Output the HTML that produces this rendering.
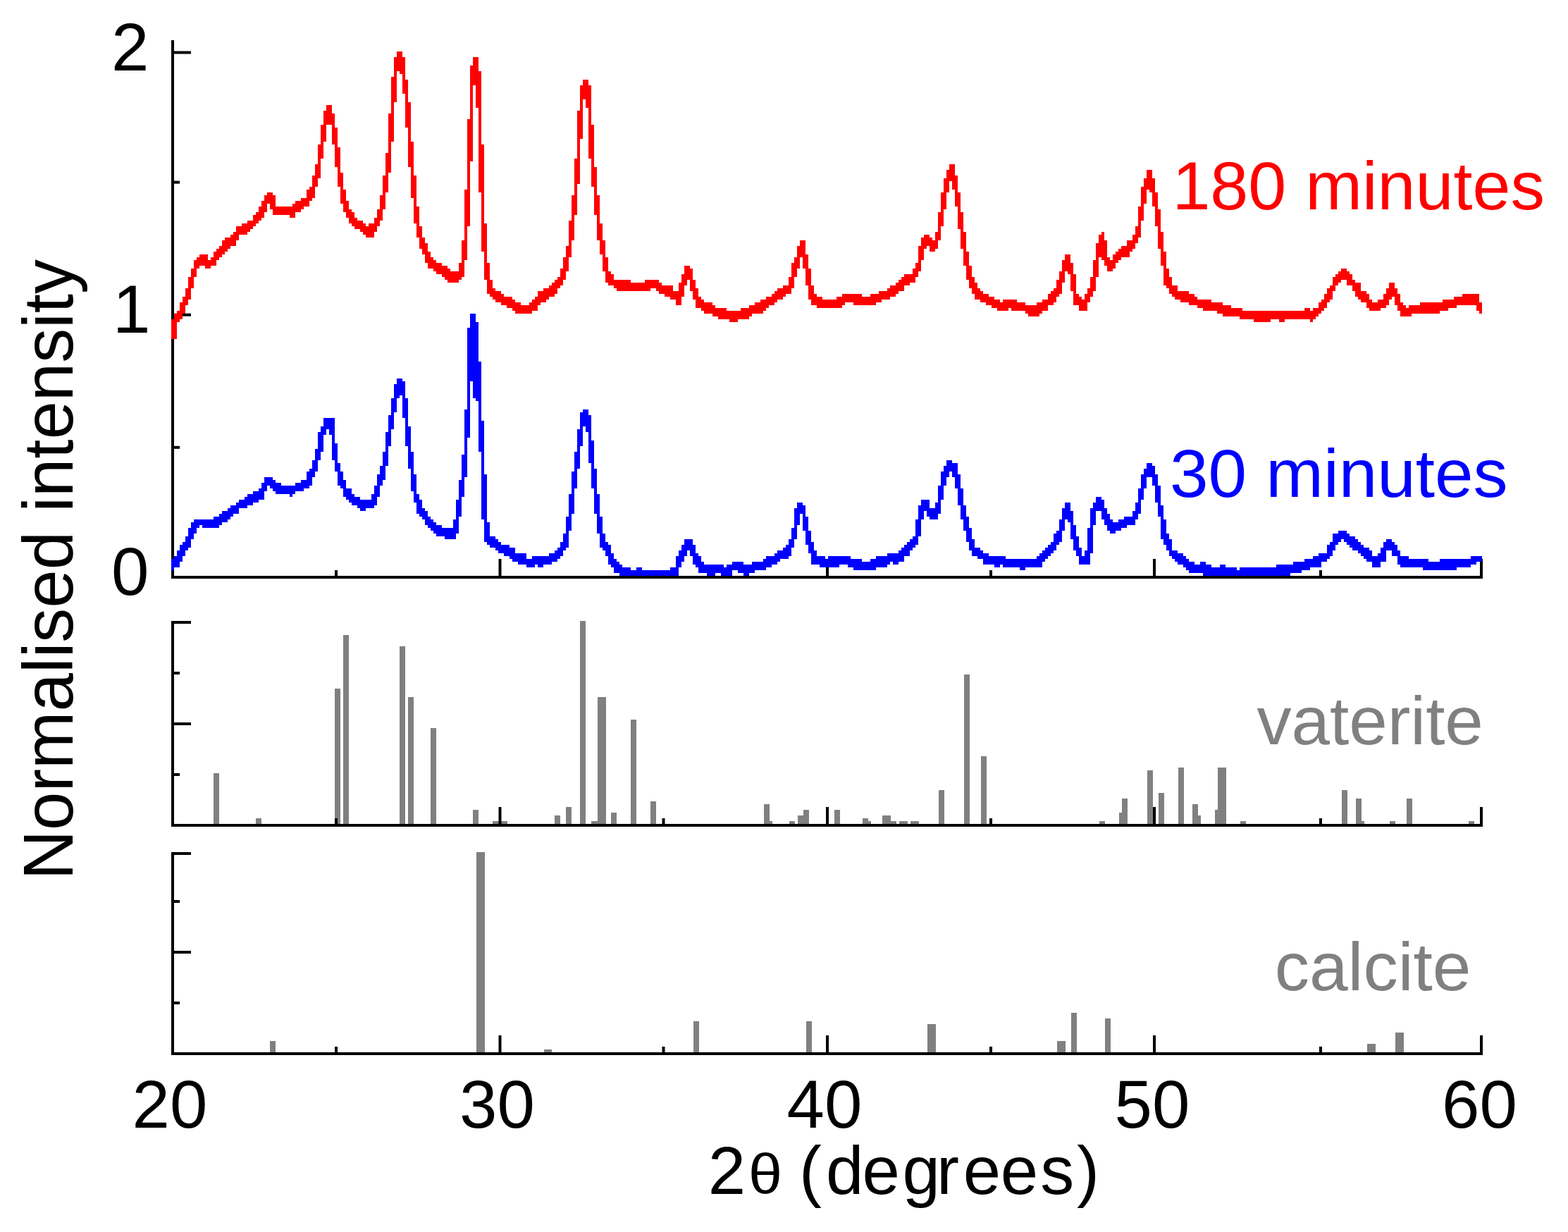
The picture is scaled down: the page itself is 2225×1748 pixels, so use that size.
<!DOCTYPE html>
<html><head><meta charset="utf-8"><title>XRD patterns</title>
<style>html,body{margin:0;padding:0;background:#fff;overflow:hidden}svg{display:block}</style>
</head><body>
<svg width="2225" height="1748" viewBox="0 0 2225 1748" font-family="'Liberation Sans', Arial, sans-serif">
<rect x="303" y="1097" width="8" height="72" fill="#808080"/>
<rect x="363" y="1161" width="8" height="8" fill="#808080"/>
<rect x="475" y="977" width="8" height="192" fill="#808080"/>
<rect x="487" y="901" width="8" height="268" fill="#808080"/>
<rect x="567" y="917" width="8" height="252" fill="#808080"/>
<rect x="579" y="989" width="8" height="180" fill="#808080"/>
<rect x="611" y="1033" width="8" height="136" fill="#808080"/>
<rect x="671" y="1149" width="8" height="20" fill="#808080"/>
<rect x="699" y="1165" width="21" height="4" fill="#808080"/>
<rect x="787" y="1157" width="8" height="12" fill="#808080"/>
<rect x="803" y="1145" width="8" height="24" fill="#808080"/>
<rect x="823" y="881" width="8" height="288" fill="#808080"/>
<rect x="839" y="1165" width="9" height="4" fill="#808080"/>
<rect x="848" y="989" width="12" height="180" fill="#808080"/>
<rect x="867" y="1153" width="8" height="16" fill="#808080"/>
<rect x="895" y="1021" width="8" height="148" fill="#808080"/>
<rect x="923" y="1137" width="8" height="32" fill="#808080"/>
<rect x="1084" y="1141" width="8" height="28" fill="#808080"/>
<rect x="1092" y="1165" width="4" height="4" fill="#808080"/>
<rect x="1120" y="1165" width="8" height="4" fill="#808080"/>
<rect x="1132" y="1157" width="8" height="12" fill="#808080"/>
<rect x="1140" y="1149" width="8" height="20" fill="#808080"/>
<rect x="1184" y="1149" width="8" height="20" fill="#808080"/>
<rect x="1224" y="1161" width="8" height="8" fill="#808080"/>
<rect x="1232" y="1165" width="4" height="4" fill="#808080"/>
<rect x="1252" y="1157" width="12" height="12" fill="#808080"/>
<rect x="1264" y="1165" width="8" height="4" fill="#808080"/>
<rect x="1276" y="1165" width="12" height="4" fill="#808080"/>
<rect x="1292" y="1165" width="12" height="4" fill="#808080"/>
<rect x="1332" y="1121" width="8" height="48" fill="#808080"/>
<rect x="1368" y="957" width="8" height="212" fill="#808080"/>
<rect x="1392" y="1073" width="8" height="96" fill="#808080"/>
<rect x="1560" y="1165" width="8" height="4" fill="#808080"/>
<rect x="1588" y="1153" width="4" height="16" fill="#808080"/>
<rect x="1592" y="1133" width="8" height="36" fill="#808080"/>
<rect x="1628" y="1093" width="8" height="76" fill="#808080"/>
<rect x="1644" y="1125" width="8" height="44" fill="#808080"/>
<rect x="1672" y="1089" width="8" height="80" fill="#808080"/>
<rect x="1692" y="1141" width="8" height="28" fill="#808080"/>
<rect x="1700" y="1157" width="4" height="12" fill="#808080"/>
<rect x="1724" y="1149" width="4" height="20" fill="#808080"/>
<rect x="1728" y="1089" width="12" height="80" fill="#808080"/>
<rect x="1760" y="1165" width="8" height="4" fill="#808080"/>
<rect x="1904" y="1121" width="8" height="48" fill="#808080"/>
<rect x="1924" y="1133" width="8" height="36" fill="#808080"/>
<rect x="1932" y="1165" width="4" height="4" fill="#808080"/>
<rect x="1972" y="1165" width="8" height="4" fill="#808080"/>
<rect x="1996" y="1133" width="8" height="36" fill="#808080"/>
<rect x="2084" y="1165" width="8" height="4" fill="#808080"/>
<rect x="383" y="1477" width="8" height="16" fill="#808080"/>
<rect x="676" y="1209" width="12" height="284" fill="#808080"/>
<rect x="772" y="1489" width="11" height="4" fill="#808080"/>
<rect x="984" y="1449" width="8" height="44" fill="#808080"/>
<rect x="1144" y="1449" width="8" height="44" fill="#808080"/>
<rect x="1316" y="1453" width="12" height="40" fill="#808080"/>
<rect x="1500" y="1477" width="12" height="16" fill="#808080"/>
<rect x="1520" y="1437" width="8" height="56" fill="#808080"/>
<rect x="1568" y="1445" width="8" height="48" fill="#808080"/>
<rect x="1940" y="1481" width="12" height="12" fill="#808080"/>
<rect x="1980" y="1465" width="12" height="28" fill="#808080"/>
<rect x="243" y="57" width="4" height="764" fill="#000"/>
<rect x="243" y="817" width="1861" height="4" fill="#000"/>
<rect x="247" y="72.5" width="24" height="4" fill="#000"/>
<rect x="247" y="444.7" width="24" height="4" fill="#000"/>
<rect x="247" y="256.6" width="8" height="4" fill="#000"/>
<rect x="247" y="632.8" width="8" height="4" fill="#000"/>
<rect x="707.5" y="793" width="4" height="24" fill="#000"/>
<rect x="1172" y="793" width="4" height="24" fill="#000"/>
<rect x="1636" y="793" width="4" height="24" fill="#000"/>
<rect x="2100" y="793" width="4" height="24" fill="#000"/>
<rect x="475" y="809" width="4" height="8" fill="#000"/>
<rect x="939.5" y="809" width="4" height="8" fill="#000"/>
<rect x="1404" y="809" width="4" height="8" fill="#000"/>
<rect x="1872" y="809" width="4" height="8" fill="#000"/>
<rect x="243" y="881" width="4" height="292" fill="#000"/>
<rect x="243" y="1169" width="1861" height="4" fill="#000"/>
<rect x="247" y="881" width="24" height="4" fill="#000"/>
<rect x="247" y="1025" width="24" height="4" fill="#000"/>
<rect x="247" y="953" width="8" height="4" fill="#000"/>
<rect x="247" y="1097" width="8" height="4" fill="#000"/>
<rect x="707.5" y="1145" width="4" height="24" fill="#000"/>
<rect x="1172" y="1145" width="4" height="24" fill="#000"/>
<rect x="1636" y="1145" width="4" height="24" fill="#000"/>
<rect x="2100" y="1145" width="4" height="24" fill="#000"/>
<rect x="475" y="1161" width="4" height="8" fill="#000"/>
<rect x="939.5" y="1161" width="4" height="8" fill="#000"/>
<rect x="1404" y="1161" width="4" height="8" fill="#000"/>
<rect x="1872" y="1161" width="4" height="8" fill="#000"/>
<rect x="243" y="1209" width="4" height="288" fill="#000"/>
<rect x="243" y="1493" width="1861" height="4" fill="#000"/>
<rect x="247" y="1209" width="24" height="4" fill="#000"/>
<rect x="247" y="1349" width="24" height="4" fill="#000"/>
<rect x="247" y="1277" width="8" height="4" fill="#000"/>
<rect x="247" y="1421" width="8" height="4" fill="#000"/>
<rect x="707.5" y="1469" width="4" height="24" fill="#000"/>
<rect x="1172" y="1469" width="4" height="24" fill="#000"/>
<rect x="1636" y="1469" width="4" height="24" fill="#000"/>
<rect x="2100" y="1469" width="4" height="24" fill="#000"/>
<rect x="475" y="1485" width="4" height="8" fill="#000"/>
<rect x="939.5" y="1485" width="4" height="8" fill="#000"/>
<rect x="1404" y="1485" width="4" height="8" fill="#000"/>
<rect x="1872" y="1485" width="4" height="8" fill="#000"/>
<g fill="#0000ff"><rect x="243" y="793" width="4" height="16"/><rect x="247" y="789" width="4" height="16"/><rect x="251" y="781" width="4" height="24"/><rect x="255" y="773" width="4" height="24"/><rect x="259" y="769" width="4" height="20"/><rect x="263" y="761" width="4" height="20"/><rect x="267" y="749" width="4" height="28"/><rect x="271" y="741" width="4" height="24"/><rect x="275" y="737" width="4" height="20"/><rect x="279" y="737" width="4" height="12"/><rect x="283" y="737" width="4" height="8"/><rect x="287" y="737" width="4" height="12"/><rect x="291" y="737" width="4" height="12"/><rect x="295" y="737" width="4" height="12"/><rect x="299" y="737" width="4" height="12"/><rect x="303" y="733" width="4" height="16"/><rect x="307" y="733" width="4" height="16"/><rect x="311" y="729" width="4" height="16"/><rect x="315" y="725" width="4" height="16"/><rect x="319" y="725" width="4" height="16"/><rect x="323" y="721" width="4" height="16"/><rect x="327" y="717" width="4" height="16"/><rect x="331" y="717" width="4" height="12"/><rect x="335" y="713" width="4" height="16"/><rect x="339" y="709" width="4" height="12"/><rect x="343" y="709" width="4" height="12"/><rect x="347" y="705" width="4" height="16"/><rect x="351" y="701" width="4" height="16"/><rect x="355" y="701" width="4" height="16"/><rect x="359" y="697" width="4" height="16"/><rect x="363" y="697" width="4" height="16"/><rect x="367" y="693" width="4" height="16"/><rect x="371" y="685" width="4" height="24"/><rect x="375" y="677" width="4" height="20"/><rect x="379" y="677" width="4" height="12"/><rect x="383" y="677" width="4" height="16"/><rect x="387" y="681" width="4" height="16"/><rect x="391" y="685" width="4" height="16"/><rect x="395" y="685" width="4" height="16"/><rect x="399" y="689" width="4" height="12"/><rect x="403" y="689" width="4" height="12"/><rect x="407" y="689" width="4" height="12"/><rect x="411" y="689" width="4" height="16"/><rect x="415" y="689" width="4" height="12"/><rect x="419" y="685" width="4" height="12"/><rect x="423" y="685" width="4" height="12"/><rect x="427" y="681" width="4" height="16"/><rect x="431" y="681" width="4" height="12"/><rect x="435" y="669" width="4" height="24"/><rect x="439" y="665" width="4" height="24"/><rect x="443" y="653" width="4" height="24"/><rect x="447" y="637" width="4" height="32"/><rect x="451" y="613" width="4" height="40"/><rect x="455" y="605" width="4" height="36"/><rect x="459" y="593" width="4" height="24"/><rect x="463" y="593" width="4" height="16"/><rect x="467" y="593" width="4" height="24"/><rect x="471" y="593" width="4" height="60"/><rect x="475" y="629" width="4" height="40"/><rect x="479" y="657" width="4" height="32"/><rect x="483" y="669" width="4" height="24"/><rect x="487" y="681" width="4" height="24"/><rect x="491" y="693" width="4" height="16"/><rect x="495" y="693" width="4" height="20"/><rect x="499" y="701" width="4" height="16"/><rect x="503" y="705" width="4" height="12"/><rect x="507" y="705" width="4" height="16"/><rect x="511" y="709" width="4" height="16"/><rect x="515" y="709" width="4" height="16"/><rect x="519" y="709" width="4" height="12"/><rect x="523" y="709" width="4" height="12"/><rect x="527" y="701" width="4" height="20"/><rect x="531" y="689" width="4" height="28"/><rect x="535" y="673" width="4" height="32"/><rect x="539" y="661" width="4" height="28"/><rect x="543" y="641" width="4" height="40"/><rect x="547" y="613" width="4" height="48"/><rect x="551" y="589" width="4" height="44"/><rect x="555" y="565" width="4" height="44"/><rect x="559" y="545" width="4" height="40"/><rect x="563" y="537" width="4" height="28"/><rect x="567" y="537" width="4" height="24"/><rect x="571" y="541" width="4" height="52"/><rect x="575" y="565" width="4" height="68"/><rect x="579" y="605" width="4" height="60"/><rect x="583" y="641" width="4" height="56"/><rect x="587" y="673" width="4" height="40"/><rect x="591" y="701" width="4" height="28"/><rect x="595" y="709" width="4" height="24"/><rect x="599" y="721" width="4" height="16"/><rect x="603" y="725" width="4" height="20"/><rect x="607" y="733" width="4" height="16"/><rect x="611" y="737" width="4" height="16"/><rect x="615" y="741" width="4" height="16"/><rect x="619" y="745" width="4" height="16"/><rect x="623" y="745" width="4" height="16"/><rect x="627" y="749" width="4" height="12"/><rect x="631" y="749" width="4" height="16"/><rect x="635" y="749" width="4" height="16"/><rect x="639" y="749" width="4" height="16"/><rect x="643" y="737" width="4" height="28"/><rect x="647" y="709" width="4" height="48"/><rect x="651" y="681" width="4" height="52"/><rect x="655" y="645" width="4" height="60"/><rect x="659" y="581" width="4" height="96"/><rect x="663" y="465" width="4" height="156"/><rect x="667" y="445" width="4" height="88"/><rect x="671" y="445" width="4" height="28"/><rect x="675" y="457" width="4" height="112"/><rect x="679" y="513" width="4" height="128"/><rect x="683" y="597" width="4" height="140"/><rect x="687" y="673" width="4" height="96"/><rect x="691" y="741" width="4" height="32"/><rect x="695" y="761" width="4" height="16"/><rect x="699" y="761" width="4" height="16"/><rect x="703" y="765" width="4" height="16"/><rect x="707" y="769" width="4" height="16"/><rect x="711" y="773" width="4" height="12"/><rect x="715" y="773" width="4" height="16"/><rect x="719" y="773" width="4" height="16"/><rect x="723" y="777" width="4" height="16"/><rect x="727" y="777" width="4" height="20"/><rect x="731" y="785" width="4" height="12"/><rect x="735" y="785" width="4" height="16"/><rect x="739" y="785" width="4" height="16"/><rect x="743" y="785" width="4" height="16"/><rect x="747" y="793" width="4" height="12"/><rect x="751" y="793" width="4" height="12"/><rect x="755" y="789" width="4" height="16"/><rect x="759" y="789" width="4" height="12"/><rect x="763" y="789" width="4" height="16"/><rect x="767" y="789" width="4" height="16"/><rect x="771" y="789" width="4" height="12"/><rect x="775" y="789" width="4" height="12"/><rect x="779" y="785" width="4" height="16"/><rect x="783" y="785" width="4" height="12"/><rect x="787" y="781" width="4" height="16"/><rect x="791" y="777" width="4" height="16"/><rect x="795" y="769" width="4" height="20"/><rect x="799" y="757" width="4" height="24"/><rect x="803" y="733" width="4" height="44"/><rect x="807" y="701" width="4" height="52"/><rect x="811" y="669" width="4" height="60"/><rect x="815" y="641" width="4" height="52"/><rect x="819" y="609" width="4" height="56"/><rect x="823" y="585" width="4" height="48"/><rect x="827" y="581" width="4" height="24"/><rect x="831" y="581" width="4" height="32"/><rect x="835" y="589" width="4" height="68"/><rect x="839" y="625" width="4" height="68"/><rect x="843" y="665" width="4" height="64"/><rect x="847" y="701" width="4" height="56"/><rect x="851" y="733" width="4" height="44"/><rect x="855" y="757" width="4" height="24"/><rect x="859" y="769" width="4" height="20"/><rect x="863" y="773" width="4" height="28"/><rect x="867" y="785" width="4" height="20"/><rect x="871" y="793" width="4" height="20"/><rect x="875" y="797" width="4" height="16"/><rect x="879" y="801" width="4" height="16"/><rect x="883" y="805" width="4" height="12"/><rect x="887" y="805" width="4" height="12"/><rect x="891" y="805" width="4" height="12"/><rect x="895" y="809" width="4" height="8"/><rect x="899" y="809" width="4" height="8"/><rect x="903" y="805" width="4" height="12"/><rect x="907" y="805" width="4" height="12"/><rect x="911" y="809" width="4" height="8"/><rect x="915" y="809" width="4" height="8"/><rect x="919" y="809" width="4" height="8"/><rect x="923" y="809" width="4" height="8"/><rect x="927" y="809" width="4" height="8"/><rect x="931" y="809" width="4" height="8"/><rect x="935" y="809" width="4" height="8"/><rect x="939" y="809" width="4" height="8"/><rect x="943" y="809" width="4" height="8"/><rect x="947" y="809" width="4" height="8"/><rect x="951" y="805" width="4" height="12"/><rect x="955" y="805" width="4" height="12"/><rect x="959" y="789" width="4" height="28"/><rect x="963" y="781" width="4" height="24"/><rect x="967" y="773" width="4" height="24"/><rect x="971" y="765" width="4" height="24"/><rect x="975" y="765" width="4" height="16"/><rect x="979" y="765" width="4" height="24"/><rect x="983" y="773" width="4" height="28"/><rect x="987" y="785" width="4" height="20"/><rect x="991" y="789" width="4" height="24"/><rect x="995" y="797" width="4" height="16"/><rect x="999" y="801" width="4" height="12"/><rect x="1003" y="801" width="4" height="16"/><rect x="1007" y="801" width="4" height="16"/><rect x="1011" y="801" width="4" height="16"/><rect x="1015" y="801" width="4" height="12"/><rect x="1019" y="801" width="4" height="12"/><rect x="1023" y="801" width="4" height="16"/><rect x="1027" y="805" width="4" height="12"/><rect x="1031" y="801" width="4" height="16"/><rect x="1035" y="801" width="4" height="16"/><rect x="1039" y="797" width="4" height="12"/><rect x="1043" y="797" width="4" height="12"/><rect x="1047" y="797" width="4" height="16"/><rect x="1051" y="797" width="4" height="16"/><rect x="1055" y="801" width="4" height="16"/><rect x="1059" y="801" width="4" height="16"/><rect x="1063" y="801" width="4" height="12"/><rect x="1067" y="797" width="4" height="16"/><rect x="1071" y="797" width="4" height="12"/><rect x="1075" y="797" width="4" height="12"/><rect x="1079" y="797" width="4" height="12"/><rect x="1083" y="793" width="4" height="16"/><rect x="1087" y="789" width="4" height="16"/><rect x="1091" y="789" width="4" height="16"/><rect x="1095" y="789" width="4" height="12"/><rect x="1099" y="785" width="4" height="16"/><rect x="1103" y="781" width="4" height="16"/><rect x="1107" y="781" width="4" height="12"/><rect x="1111" y="777" width="4" height="16"/><rect x="1115" y="773" width="4" height="20"/><rect x="1119" y="765" width="4" height="24"/><rect x="1123" y="749" width="4" height="28"/><rect x="1127" y="721" width="4" height="44"/><rect x="1131" y="713" width="4" height="32"/><rect x="1135" y="713" width="4" height="16"/><rect x="1139" y="717" width="4" height="36"/><rect x="1143" y="733" width="4" height="40"/><rect x="1147" y="753" width="4" height="32"/><rect x="1151" y="769" width="4" height="32"/><rect x="1155" y="781" width="4" height="20"/><rect x="1159" y="789" width="4" height="12"/><rect x="1163" y="789" width="4" height="16"/><rect x="1167" y="789" width="4" height="16"/><rect x="1171" y="793" width="4" height="12"/><rect x="1175" y="789" width="4" height="16"/><rect x="1179" y="789" width="4" height="16"/><rect x="1183" y="789" width="4" height="16"/><rect x="1187" y="789" width="4" height="16"/><rect x="1191" y="789" width="4" height="12"/><rect x="1195" y="789" width="4" height="12"/><rect x="1199" y="789" width="4" height="12"/><rect x="1203" y="789" width="4" height="16"/><rect x="1207" y="793" width="4" height="12"/><rect x="1211" y="793" width="4" height="16"/><rect x="1215" y="793" width="4" height="16"/><rect x="1219" y="793" width="4" height="16"/><rect x="1223" y="797" width="4" height="12"/><rect x="1227" y="797" width="4" height="12"/><rect x="1231" y="797" width="4" height="12"/><rect x="1235" y="793" width="4" height="16"/><rect x="1239" y="793" width="4" height="16"/><rect x="1243" y="789" width="4" height="16"/><rect x="1247" y="789" width="4" height="16"/><rect x="1251" y="789" width="4" height="16"/><rect x="1255" y="789" width="4" height="16"/><rect x="1259" y="785" width="4" height="16"/><rect x="1263" y="785" width="4" height="12"/><rect x="1267" y="785" width="4" height="16"/><rect x="1271" y="785" width="4" height="16"/><rect x="1275" y="781" width="4" height="16"/><rect x="1279" y="777" width="4" height="20"/><rect x="1283" y="773" width="4" height="16"/><rect x="1287" y="769" width="4" height="20"/><rect x="1291" y="765" width="4" height="16"/><rect x="1295" y="761" width="4" height="16"/><rect x="1299" y="737" width="4" height="36"/><rect x="1303" y="717" width="4" height="44"/><rect x="1307" y="709" width="4" height="28"/><rect x="1311" y="709" width="4" height="16"/><rect x="1315" y="709" width="4" height="24"/><rect x="1319" y="721" width="4" height="16"/><rect x="1323" y="721" width="4" height="16"/><rect x="1327" y="713" width="4" height="24"/><rect x="1331" y="689" width="4" height="40"/><rect x="1335" y="669" width="4" height="40"/><rect x="1339" y="661" width="4" height="28"/><rect x="1343" y="653" width="4" height="24"/><rect x="1347" y="653" width="4" height="16"/><rect x="1351" y="657" width="4" height="20"/><rect x="1355" y="657" width="4" height="36"/><rect x="1359" y="673" width="4" height="44"/><rect x="1363" y="693" width="4" height="44"/><rect x="1367" y="717" width="4" height="36"/><rect x="1371" y="733" width="4" height="36"/><rect x="1375" y="749" width="4" height="32"/><rect x="1379" y="765" width="4" height="24"/><rect x="1383" y="777" width="4" height="12"/><rect x="1387" y="777" width="4" height="16"/><rect x="1391" y="781" width="4" height="12"/><rect x="1395" y="785" width="4" height="16"/><rect x="1399" y="785" width="4" height="16"/><rect x="1403" y="789" width="4" height="12"/><rect x="1407" y="789" width="4" height="12"/><rect x="1411" y="789" width="4" height="16"/><rect x="1415" y="789" width="4" height="16"/><rect x="1419" y="789" width="4" height="12"/><rect x="1423" y="789" width="4" height="16"/><rect x="1427" y="793" width="4" height="12"/><rect x="1431" y="793" width="4" height="12"/><rect x="1435" y="793" width="4" height="12"/><rect x="1439" y="793" width="4" height="12"/><rect x="1443" y="793" width="4" height="12"/><rect x="1447" y="793" width="4" height="16"/><rect x="1451" y="793" width="4" height="16"/><rect x="1455" y="793" width="4" height="12"/><rect x="1459" y="793" width="4" height="12"/><rect x="1463" y="793" width="4" height="12"/><rect x="1467" y="793" width="4" height="12"/><rect x="1471" y="789" width="4" height="16"/><rect x="1475" y="785" width="4" height="20"/><rect x="1479" y="781" width="4" height="16"/><rect x="1483" y="777" width="4" height="16"/><rect x="1487" y="773" width="4" height="16"/><rect x="1491" y="769" width="4" height="16"/><rect x="1495" y="757" width="4" height="24"/><rect x="1499" y="753" width="4" height="20"/><rect x="1503" y="737" width="4" height="32"/><rect x="1507" y="721" width="4" height="32"/><rect x="1511" y="713" width="4" height="24"/><rect x="1515" y="713" width="4" height="28"/><rect x="1519" y="725" width="4" height="40"/><rect x="1523" y="745" width="4" height="36"/><rect x="1527" y="761" width="4" height="28"/><rect x="1531" y="777" width="4" height="24"/><rect x="1535" y="789" width="4" height="12"/><rect x="1539" y="781" width="4" height="20"/><rect x="1543" y="749" width="4" height="52"/><rect x="1547" y="721" width="4" height="64"/><rect x="1551" y="713" width="4" height="32"/><rect x="1555" y="705" width="4" height="20"/><rect x="1559" y="705" width="4" height="20"/><rect x="1563" y="709" width="4" height="28"/><rect x="1567" y="721" width="4" height="24"/><rect x="1571" y="729" width="4" height="24"/><rect x="1575" y="737" width="4" height="20"/><rect x="1579" y="741" width="4" height="16"/><rect x="1583" y="741" width="4" height="12"/><rect x="1587" y="737" width="4" height="16"/><rect x="1591" y="737" width="4" height="12"/><rect x="1595" y="733" width="4" height="16"/><rect x="1599" y="733" width="4" height="12"/><rect x="1603" y="733" width="4" height="12"/><rect x="1607" y="725" width="4" height="20"/><rect x="1611" y="713" width="4" height="24"/><rect x="1615" y="693" width="4" height="36"/><rect x="1619" y="673" width="4" height="36"/><rect x="1623" y="665" width="4" height="28"/><rect x="1627" y="657" width="4" height="20"/><rect x="1631" y="657" width="4" height="20"/><rect x="1635" y="661" width="4" height="28"/><rect x="1639" y="673" width="4" height="40"/><rect x="1643" y="689" width="4" height="44"/><rect x="1647" y="717" width="4" height="48"/><rect x="1651" y="737" width="4" height="36"/><rect x="1655" y="757" width="4" height="24"/><rect x="1659" y="765" width="4" height="24"/><rect x="1663" y="781" width="4" height="12"/><rect x="1667" y="781" width="4" height="16"/><rect x="1671" y="785" width="4" height="16"/><rect x="1675" y="785" width="4" height="16"/><rect x="1679" y="789" width="4" height="16"/><rect x="1683" y="793" width="4" height="16"/><rect x="1687" y="797" width="4" height="16"/><rect x="1691" y="797" width="4" height="16"/><rect x="1695" y="801" width="4" height="12"/><rect x="1699" y="801" width="4" height="12"/><rect x="1703" y="797" width="4" height="16"/><rect x="1707" y="797" width="4" height="20"/><rect x="1711" y="801" width="4" height="16"/><rect x="1715" y="801" width="4" height="16"/><rect x="1719" y="805" width="4" height="12"/><rect x="1723" y="805" width="4" height="12"/><rect x="1727" y="805" width="4" height="12"/><rect x="1731" y="801" width="4" height="16"/><rect x="1735" y="801" width="4" height="16"/><rect x="1739" y="805" width="4" height="12"/><rect x="1743" y="805" width="4" height="12"/><rect x="1747" y="805" width="4" height="12"/><rect x="1751" y="805" width="4" height="12"/><rect x="1755" y="809" width="4" height="8"/><rect x="1759" y="805" width="4" height="12"/><rect x="1763" y="805" width="4" height="12"/><rect x="1767" y="805" width="4" height="12"/><rect x="1771" y="805" width="4" height="12"/><rect x="1775" y="805" width="4" height="12"/><rect x="1779" y="805" width="4" height="12"/><rect x="1783" y="805" width="4" height="12"/><rect x="1787" y="805" width="4" height="12"/><rect x="1791" y="805" width="4" height="12"/><rect x="1795" y="805" width="4" height="12"/><rect x="1799" y="805" width="4" height="12"/><rect x="1803" y="805" width="4" height="12"/><rect x="1807" y="805" width="4" height="12"/><rect x="1811" y="801" width="4" height="16"/><rect x="1815" y="801" width="4" height="16"/><rect x="1819" y="801" width="4" height="16"/><rect x="1823" y="801" width="4" height="16"/><rect x="1827" y="801" width="4" height="16"/><rect x="1831" y="801" width="4" height="12"/><rect x="1835" y="797" width="4" height="16"/><rect x="1839" y="797" width="4" height="16"/><rect x="1843" y="797" width="4" height="16"/><rect x="1847" y="797" width="4" height="12"/><rect x="1851" y="793" width="4" height="16"/><rect x="1855" y="793" width="4" height="16"/><rect x="1859" y="793" width="4" height="12"/><rect x="1863" y="789" width="4" height="16"/><rect x="1867" y="789" width="4" height="16"/><rect x="1871" y="785" width="4" height="20"/><rect x="1875" y="785" width="4" height="12"/><rect x="1879" y="785" width="4" height="12"/><rect x="1883" y="773" width="4" height="20"/><rect x="1887" y="769" width="4" height="20"/><rect x="1891" y="757" width="4" height="24"/><rect x="1895" y="757" width="4" height="16"/><rect x="1899" y="753" width="4" height="16"/><rect x="1903" y="753" width="4" height="12"/><rect x="1907" y="753" width="4" height="16"/><rect x="1911" y="757" width="4" height="16"/><rect x="1915" y="761" width="4" height="16"/><rect x="1919" y="761" width="4" height="20"/><rect x="1923" y="765" width="4" height="16"/><rect x="1927" y="769" width="4" height="16"/><rect x="1931" y="773" width="4" height="16"/><rect x="1935" y="777" width="4" height="16"/><rect x="1939" y="777" width="4" height="20"/><rect x="1943" y="781" width="4" height="16"/><rect x="1947" y="789" width="4" height="16"/><rect x="1951" y="789" width="4" height="16"/><rect x="1955" y="785" width="4" height="20"/><rect x="1959" y="777" width="4" height="20"/><rect x="1963" y="769" width="4" height="28"/><rect x="1967" y="765" width="4" height="16"/><rect x="1971" y="765" width="4" height="16"/><rect x="1975" y="769" width="4" height="20"/><rect x="1979" y="773" width="4" height="16"/><rect x="1983" y="781" width="4" height="20"/><rect x="1987" y="789" width="4" height="16"/><rect x="1991" y="789" width="4" height="16"/><rect x="1995" y="789" width="4" height="16"/><rect x="1999" y="793" width="4" height="12"/><rect x="2003" y="793" width="4" height="12"/><rect x="2007" y="793" width="4" height="12"/><rect x="2011" y="793" width="4" height="12"/><rect x="2015" y="793" width="4" height="12"/><rect x="2019" y="793" width="4" height="16"/><rect x="2023" y="793" width="4" height="16"/><rect x="2027" y="797" width="4" height="12"/><rect x="2031" y="797" width="4" height="12"/><rect x="2035" y="797" width="4" height="12"/><rect x="2039" y="797" width="4" height="12"/><rect x="2043" y="793" width="4" height="16"/><rect x="2047" y="793" width="4" height="16"/><rect x="2051" y="793" width="4" height="16"/><rect x="2055" y="793" width="4" height="16"/><rect x="2059" y="793" width="4" height="16"/><rect x="2063" y="793" width="4" height="16"/><rect x="2067" y="793" width="4" height="12"/><rect x="2071" y="793" width="4" height="12"/><rect x="2075" y="793" width="4" height="12"/><rect x="2079" y="793" width="4" height="12"/><rect x="2083" y="793" width="4" height="12"/><rect x="2087" y="789" width="4" height="12"/><rect x="2091" y="789" width="4" height="12"/><rect x="2095" y="789" width="4" height="8"/><rect x="2099" y="789" width="4" height="8"/></g>
<rect x="667" y="445" width="4" height="96" fill="#0000ff"/>
<rect x="671" y="445" width="4" height="120" fill="#0000ff"/>
<rect x="675" y="457" width="4" height="88" fill="#0000ff"/>
<g fill="#ff0000"><rect x="243" y="453" width="4" height="28"/><rect x="247" y="445" width="4" height="36"/><rect x="251" y="441" width="4" height="16"/><rect x="255" y="429" width="4" height="24"/><rect x="259" y="421" width="4" height="24"/><rect x="263" y="409" width="4" height="24"/><rect x="267" y="393" width="4" height="32"/><rect x="271" y="381" width="4" height="28"/><rect x="275" y="369" width="4" height="24"/><rect x="279" y="365" width="4" height="16"/><rect x="283" y="361" width="4" height="16"/><rect x="287" y="361" width="4" height="16"/><rect x="291" y="361" width="4" height="20"/><rect x="295" y="369" width="4" height="12"/><rect x="299" y="365" width="4" height="12"/><rect x="303" y="357" width="4" height="20"/><rect x="307" y="353" width="4" height="16"/><rect x="311" y="349" width="4" height="16"/><rect x="315" y="341" width="4" height="20"/><rect x="319" y="337" width="4" height="20"/><rect x="323" y="337" width="4" height="16"/><rect x="327" y="333" width="4" height="16"/><rect x="331" y="329" width="4" height="20"/><rect x="335" y="321" width="4" height="20"/><rect x="339" y="321" width="4" height="12"/><rect x="343" y="317" width="4" height="16"/><rect x="347" y="317" width="4" height="16"/><rect x="351" y="313" width="4" height="16"/><rect x="355" y="313" width="4" height="12"/><rect x="359" y="305" width="4" height="16"/><rect x="363" y="301" width="4" height="16"/><rect x="367" y="293" width="4" height="20"/><rect x="371" y="285" width="4" height="24"/><rect x="375" y="277" width="4" height="24"/><rect x="379" y="273" width="4" height="16"/><rect x="383" y="273" width="4" height="24"/><rect x="387" y="277" width="4" height="28"/><rect x="391" y="293" width="4" height="12"/><rect x="395" y="293" width="4" height="12"/><rect x="399" y="293" width="4" height="12"/><rect x="403" y="293" width="4" height="12"/><rect x="407" y="293" width="4" height="12"/><rect x="411" y="293" width="4" height="16"/><rect x="415" y="289" width="4" height="20"/><rect x="419" y="285" width="4" height="16"/><rect x="423" y="285" width="4" height="16"/><rect x="427" y="281" width="4" height="16"/><rect x="431" y="281" width="4" height="12"/><rect x="435" y="269" width="4" height="24"/><rect x="439" y="265" width="4" height="20"/><rect x="443" y="249" width="4" height="32"/><rect x="447" y="233" width="4" height="32"/><rect x="451" y="205" width="4" height="48"/><rect x="455" y="177" width="4" height="48"/><rect x="459" y="157" width="4" height="44"/><rect x="463" y="149" width="4" height="28"/><rect x="467" y="149" width="4" height="28"/><rect x="471" y="161" width="4" height="44"/><rect x="475" y="181" width="4" height="56"/><rect x="479" y="209" width="4" height="56"/><rect x="483" y="245" width="4" height="44"/><rect x="487" y="269" width="4" height="32"/><rect x="491" y="285" width="4" height="24"/><rect x="495" y="297" width="4" height="20"/><rect x="499" y="301" width="4" height="20"/><rect x="503" y="309" width="4" height="16"/><rect x="507" y="313" width="4" height="12"/><rect x="511" y="313" width="4" height="16"/><rect x="515" y="317" width="4" height="16"/><rect x="519" y="321" width="4" height="16"/><rect x="523" y="317" width="4" height="20"/><rect x="527" y="317" width="4" height="20"/><rect x="531" y="309" width="4" height="20"/><rect x="535" y="297" width="4" height="24"/><rect x="539" y="277" width="4" height="36"/><rect x="543" y="249" width="4" height="48"/><rect x="547" y="217" width="4" height="56"/><rect x="551" y="161" width="4" height="84"/><rect x="555" y="109" width="4" height="92"/><rect x="559" y="81" width="4" height="64"/><rect x="563" y="73" width="4" height="28"/><rect x="567" y="73" width="4" height="32"/><rect x="571" y="81" width="4" height="52"/><rect x="575" y="113" width="4" height="68"/><rect x="579" y="145" width="4" height="92"/><rect x="583" y="201" width="4" height="80"/><rect x="587" y="249" width="4" height="68"/><rect x="591" y="293" width="4" height="44"/><rect x="595" y="321" width="4" height="32"/><rect x="599" y="337" width="4" height="24"/><rect x="603" y="345" width="4" height="28"/><rect x="607" y="357" width="4" height="24"/><rect x="611" y="365" width="4" height="16"/><rect x="615" y="369" width="4" height="16"/><rect x="619" y="373" width="4" height="16"/><rect x="623" y="373" width="4" height="16"/><rect x="627" y="377" width="4" height="16"/><rect x="631" y="377" width="4" height="20"/><rect x="635" y="381" width="4" height="20"/><rect x="639" y="385" width="4" height="16"/><rect x="643" y="385" width="4" height="16"/><rect x="647" y="385" width="4" height="16"/><rect x="651" y="373" width="4" height="24"/><rect x="655" y="341" width="4" height="52"/><rect x="659" y="269" width="4" height="100"/><rect x="663" y="169" width="4" height="152"/><rect x="667" y="93" width="4" height="136"/><rect x="671" y="81" width="4" height="40"/><rect x="675" y="81" width="4" height="72"/><rect x="679" y="101" width="4" height="172"/><rect x="683" y="205" width="4" height="152"/><rect x="687" y="317" width="4" height="80"/><rect x="691" y="373" width="4" height="44"/><rect x="695" y="397" width="4" height="24"/><rect x="699" y="409" width="4" height="16"/><rect x="703" y="413" width="4" height="16"/><rect x="707" y="413" width="4" height="16"/><rect x="711" y="417" width="4" height="16"/><rect x="715" y="421" width="4" height="12"/><rect x="719" y="421" width="4" height="16"/><rect x="723" y="421" width="4" height="16"/><rect x="727" y="425" width="4" height="16"/><rect x="731" y="429" width="4" height="16"/><rect x="735" y="429" width="4" height="16"/><rect x="739" y="433" width="4" height="12"/><rect x="743" y="433" width="4" height="12"/><rect x="747" y="433" width="4" height="12"/><rect x="751" y="429" width="4" height="16"/><rect x="755" y="425" width="4" height="16"/><rect x="759" y="421" width="4" height="20"/><rect x="763" y="413" width="4" height="20"/><rect x="767" y="413" width="4" height="16"/><rect x="771" y="409" width="4" height="20"/><rect x="775" y="409" width="4" height="16"/><rect x="779" y="405" width="4" height="16"/><rect x="783" y="401" width="4" height="20"/><rect x="787" y="397" width="4" height="20"/><rect x="791" y="393" width="4" height="16"/><rect x="795" y="381" width="4" height="24"/><rect x="799" y="365" width="4" height="32"/><rect x="803" y="349" width="4" height="36"/><rect x="807" y="313" width="4" height="52"/><rect x="811" y="277" width="4" height="64"/><rect x="815" y="225" width="4" height="80"/><rect x="819" y="157" width="4" height="104"/><rect x="823" y="121" width="4" height="76"/><rect x="827" y="113" width="4" height="28"/><rect x="831" y="113" width="4" height="40"/><rect x="835" y="121" width="4" height="104"/><rect x="839" y="177" width="4" height="88"/><rect x="843" y="237" width="4" height="68"/><rect x="847" y="277" width="4" height="64"/><rect x="851" y="317" width="4" height="44"/><rect x="855" y="341" width="4" height="44"/><rect x="859" y="365" width="4" height="36"/><rect x="863" y="385" width="4" height="20"/><rect x="867" y="389" width="4" height="16"/><rect x="871" y="397" width="4" height="12"/><rect x="875" y="397" width="4" height="16"/><rect x="879" y="397" width="4" height="16"/><rect x="883" y="397" width="4" height="16"/><rect x="887" y="397" width="4" height="16"/><rect x="891" y="397" width="4" height="16"/><rect x="895" y="401" width="4" height="12"/><rect x="899" y="401" width="4" height="12"/><rect x="903" y="401" width="4" height="12"/><rect x="907" y="401" width="4" height="12"/><rect x="911" y="401" width="4" height="12"/><rect x="915" y="397" width="4" height="16"/><rect x="919" y="397" width="4" height="16"/><rect x="923" y="397" width="4" height="12"/><rect x="927" y="397" width="4" height="12"/><rect x="931" y="397" width="4" height="16"/><rect x="935" y="401" width="4" height="16"/><rect x="939" y="405" width="4" height="12"/><rect x="943" y="405" width="4" height="16"/><rect x="947" y="405" width="4" height="16"/><rect x="951" y="405" width="4" height="20"/><rect x="955" y="413" width="4" height="12"/><rect x="959" y="413" width="4" height="20"/><rect x="963" y="401" width="4" height="32"/><rect x="967" y="389" width="4" height="32"/><rect x="971" y="377" width="4" height="28"/><rect x="975" y="377" width="4" height="20"/><rect x="979" y="381" width="4" height="32"/><rect x="983" y="397" width="4" height="28"/><rect x="987" y="409" width="4" height="28"/><rect x="991" y="421" width="4" height="16"/><rect x="995" y="425" width="4" height="16"/><rect x="999" y="429" width="4" height="16"/><rect x="1003" y="429" width="4" height="16"/><rect x="1007" y="429" width="4" height="16"/><rect x="1011" y="433" width="4" height="16"/><rect x="1015" y="437" width="4" height="12"/><rect x="1019" y="437" width="4" height="16"/><rect x="1023" y="437" width="4" height="16"/><rect x="1027" y="437" width="4" height="16"/><rect x="1031" y="441" width="4" height="12"/><rect x="1035" y="441" width="4" height="16"/><rect x="1039" y="441" width="4" height="16"/><rect x="1043" y="441" width="4" height="16"/><rect x="1047" y="441" width="4" height="12"/><rect x="1051" y="437" width="4" height="16"/><rect x="1055" y="437" width="4" height="16"/><rect x="1059" y="437" width="4" height="16"/><rect x="1063" y="433" width="4" height="16"/><rect x="1067" y="433" width="4" height="12"/><rect x="1071" y="429" width="4" height="16"/><rect x="1075" y="429" width="4" height="16"/><rect x="1079" y="425" width="4" height="20"/><rect x="1083" y="425" width="4" height="16"/><rect x="1087" y="421" width="4" height="16"/><rect x="1091" y="421" width="4" height="12"/><rect x="1095" y="417" width="4" height="16"/><rect x="1099" y="413" width="4" height="16"/><rect x="1103" y="409" width="4" height="16"/><rect x="1107" y="409" width="4" height="16"/><rect x="1111" y="405" width="4" height="16"/><rect x="1115" y="405" width="4" height="12"/><rect x="1119" y="393" width="4" height="24"/><rect x="1123" y="373" width="4" height="36"/><rect x="1127" y="365" width="4" height="28"/><rect x="1131" y="349" width="4" height="32"/><rect x="1135" y="341" width="4" height="24"/><rect x="1139" y="341" width="4" height="40"/><rect x="1143" y="361" width="4" height="44"/><rect x="1147" y="381" width="4" height="44"/><rect x="1151" y="405" width="4" height="28"/><rect x="1155" y="417" width="4" height="16"/><rect x="1159" y="421" width="4" height="16"/><rect x="1163" y="421" width="4" height="16"/><rect x="1167" y="425" width="4" height="12"/><rect x="1171" y="425" width="4" height="12"/><rect x="1175" y="425" width="4" height="12"/><rect x="1179" y="425" width="4" height="12"/><rect x="1183" y="425" width="4" height="12"/><rect x="1187" y="421" width="4" height="16"/><rect x="1191" y="421" width="4" height="16"/><rect x="1195" y="417" width="4" height="16"/><rect x="1199" y="417" width="4" height="12"/><rect x="1203" y="417" width="4" height="12"/><rect x="1207" y="417" width="4" height="12"/><rect x="1211" y="417" width="4" height="16"/><rect x="1215" y="417" width="4" height="16"/><rect x="1219" y="417" width="4" height="16"/><rect x="1223" y="421" width="4" height="12"/><rect x="1227" y="421" width="4" height="12"/><rect x="1231" y="421" width="4" height="12"/><rect x="1235" y="417" width="4" height="16"/><rect x="1239" y="417" width="4" height="16"/><rect x="1243" y="417" width="4" height="12"/><rect x="1247" y="413" width="4" height="16"/><rect x="1251" y="413" width="4" height="12"/><rect x="1255" y="413" width="4" height="12"/><rect x="1259" y="409" width="4" height="16"/><rect x="1263" y="405" width="4" height="16"/><rect x="1267" y="405" width="4" height="16"/><rect x="1271" y="401" width="4" height="16"/><rect x="1275" y="397" width="4" height="16"/><rect x="1279" y="393" width="4" height="20"/><rect x="1283" y="389" width="4" height="16"/><rect x="1287" y="389" width="4" height="16"/><rect x="1291" y="389" width="4" height="12"/><rect x="1295" y="381" width="4" height="20"/><rect x="1299" y="373" width="4" height="20"/><rect x="1303" y="349" width="4" height="36"/><rect x="1307" y="337" width="4" height="32"/><rect x="1311" y="333" width="4" height="20"/><rect x="1315" y="333" width="4" height="16"/><rect x="1319" y="337" width="4" height="20"/><rect x="1323" y="341" width="4" height="16"/><rect x="1327" y="329" width="4" height="24"/><rect x="1331" y="301" width="4" height="40"/><rect x="1335" y="273" width="4" height="48"/><rect x="1339" y="253" width="4" height="44"/><rect x="1343" y="241" width="4" height="32"/><rect x="1347" y="233" width="4" height="24"/><rect x="1351" y="233" width="4" height="36"/><rect x="1355" y="249" width="4" height="44"/><rect x="1359" y="273" width="4" height="52"/><rect x="1363" y="301" width="4" height="52"/><rect x="1367" y="329" width="4" height="48"/><rect x="1371" y="357" width="4" height="40"/><rect x="1375" y="377" width="4" height="32"/><rect x="1379" y="393" width="4" height="24"/><rect x="1383" y="401" width="4" height="24"/><rect x="1387" y="409" width="4" height="16"/><rect x="1391" y="413" width="4" height="16"/><rect x="1395" y="417" width="4" height="12"/><rect x="1399" y="417" width="4" height="16"/><rect x="1403" y="421" width="4" height="12"/><rect x="1407" y="421" width="4" height="16"/><rect x="1411" y="425" width="4" height="12"/><rect x="1415" y="425" width="4" height="16"/><rect x="1419" y="429" width="4" height="12"/><rect x="1423" y="425" width="4" height="16"/><rect x="1427" y="425" width="4" height="16"/><rect x="1431" y="425" width="4" height="12"/><rect x="1435" y="425" width="4" height="16"/><rect x="1439" y="425" width="4" height="16"/><rect x="1443" y="429" width="4" height="12"/><rect x="1447" y="429" width="4" height="12"/><rect x="1451" y="429" width="4" height="12"/><rect x="1455" y="433" width="4" height="12"/><rect x="1459" y="433" width="4" height="16"/><rect x="1463" y="433" width="4" height="16"/><rect x="1467" y="433" width="4" height="16"/><rect x="1471" y="429" width="4" height="20"/><rect x="1475" y="429" width="4" height="16"/><rect x="1479" y="425" width="4" height="16"/><rect x="1483" y="425" width="4" height="16"/><rect x="1487" y="417" width="4" height="16"/><rect x="1491" y="413" width="4" height="20"/><rect x="1495" y="409" width="4" height="20"/><rect x="1499" y="397" width="4" height="24"/><rect x="1503" y="385" width="4" height="32"/><rect x="1507" y="369" width="4" height="32"/><rect x="1511" y="361" width="4" height="24"/><rect x="1515" y="361" width="4" height="28"/><rect x="1519" y="373" width="4" height="40"/><rect x="1523" y="389" width="4" height="44"/><rect x="1527" y="417" width="4" height="16"/><rect x="1531" y="421" width="4" height="20"/><rect x="1535" y="425" width="4" height="16"/><rect x="1539" y="417" width="4" height="24"/><rect x="1543" y="409" width="4" height="20"/><rect x="1547" y="393" width="4" height="28"/><rect x="1551" y="369" width="4" height="44"/><rect x="1555" y="345" width="4" height="48"/><rect x="1559" y="333" width="4" height="32"/><rect x="1563" y="329" width="4" height="40"/><rect x="1567" y="341" width="4" height="36"/><rect x="1571" y="365" width="4" height="20"/><rect x="1575" y="369" width="4" height="16"/><rect x="1579" y="361" width="4" height="20"/><rect x="1583" y="357" width="4" height="16"/><rect x="1587" y="353" width="4" height="16"/><rect x="1591" y="349" width="4" height="16"/><rect x="1595" y="349" width="4" height="16"/><rect x="1599" y="341" width="4" height="24"/><rect x="1603" y="341" width="4" height="16"/><rect x="1607" y="333" width="4" height="20"/><rect x="1611" y="321" width="4" height="24"/><rect x="1615" y="293" width="4" height="44"/><rect x="1619" y="265" width="4" height="48"/><rect x="1623" y="253" width="4" height="36"/><rect x="1627" y="241" width="4" height="28"/><rect x="1631" y="241" width="4" height="32"/><rect x="1635" y="253" width="4" height="40"/><rect x="1639" y="273" width="4" height="48"/><rect x="1643" y="297" width="4" height="56"/><rect x="1647" y="329" width="4" height="48"/><rect x="1651" y="357" width="4" height="48"/><rect x="1655" y="381" width="4" height="28"/><rect x="1659" y="393" width="4" height="24"/><rect x="1663" y="405" width="4" height="16"/><rect x="1667" y="405" width="4" height="20"/><rect x="1671" y="413" width="4" height="12"/><rect x="1675" y="413" width="4" height="16"/><rect x="1679" y="413" width="4" height="16"/><rect x="1683" y="413" width="4" height="16"/><rect x="1687" y="417" width="4" height="16"/><rect x="1691" y="417" width="4" height="16"/><rect x="1695" y="421" width="4" height="12"/><rect x="1699" y="425" width="4" height="12"/><rect x="1703" y="425" width="4" height="12"/><rect x="1707" y="425" width="4" height="16"/><rect x="1711" y="425" width="4" height="16"/><rect x="1715" y="425" width="4" height="16"/><rect x="1719" y="429" width="4" height="12"/><rect x="1723" y="429" width="4" height="12"/><rect x="1727" y="429" width="4" height="16"/><rect x="1731" y="429" width="4" height="16"/><rect x="1735" y="433" width="4" height="16"/><rect x="1739" y="433" width="4" height="16"/><rect x="1743" y="433" width="4" height="16"/><rect x="1747" y="437" width="4" height="12"/><rect x="1751" y="437" width="4" height="12"/><rect x="1755" y="437" width="4" height="12"/><rect x="1759" y="437" width="4" height="16"/><rect x="1763" y="441" width="4" height="12"/><rect x="1767" y="441" width="4" height="12"/><rect x="1771" y="441" width="4" height="12"/><rect x="1775" y="441" width="4" height="12"/><rect x="1779" y="441" width="4" height="16"/><rect x="1783" y="441" width="4" height="16"/><rect x="1787" y="441" width="4" height="16"/><rect x="1791" y="441" width="4" height="16"/><rect x="1795" y="441" width="4" height="16"/><rect x="1799" y="441" width="4" height="16"/><rect x="1803" y="441" width="4" height="12"/><rect x="1807" y="441" width="4" height="12"/><rect x="1811" y="441" width="4" height="12"/><rect x="1815" y="441" width="4" height="16"/><rect x="1819" y="441" width="4" height="16"/><rect x="1823" y="441" width="4" height="12"/><rect x="1827" y="441" width="4" height="12"/><rect x="1831" y="441" width="4" height="12"/><rect x="1835" y="441" width="4" height="12"/><rect x="1839" y="441" width="4" height="12"/><rect x="1843" y="441" width="4" height="12"/><rect x="1847" y="441" width="4" height="12"/><rect x="1851" y="437" width="4" height="16"/><rect x="1855" y="437" width="4" height="16"/><rect x="1859" y="441" width="4" height="16"/><rect x="1863" y="437" width="4" height="16"/><rect x="1867" y="437" width="4" height="12"/><rect x="1871" y="429" width="4" height="16"/><rect x="1875" y="425" width="4" height="16"/><rect x="1879" y="417" width="4" height="20"/><rect x="1883" y="409" width="4" height="20"/><rect x="1887" y="405" width="4" height="20"/><rect x="1891" y="393" width="4" height="20"/><rect x="1895" y="389" width="4" height="16"/><rect x="1899" y="385" width="4" height="16"/><rect x="1903" y="381" width="4" height="16"/><rect x="1907" y="381" width="4" height="16"/><rect x="1911" y="385" width="4" height="20"/><rect x="1915" y="389" width="4" height="16"/><rect x="1919" y="397" width="4" height="16"/><rect x="1923" y="401" width="4" height="20"/><rect x="1927" y="401" width="4" height="24"/><rect x="1931" y="413" width="4" height="16"/><rect x="1935" y="413" width="4" height="16"/><rect x="1939" y="417" width="4" height="20"/><rect x="1943" y="425" width="4" height="16"/><rect x="1947" y="429" width="4" height="12"/><rect x="1951" y="429" width="4" height="12"/><rect x="1955" y="425" width="4" height="16"/><rect x="1959" y="425" width="4" height="12"/><rect x="1963" y="417" width="4" height="20"/><rect x="1967" y="409" width="4" height="24"/><rect x="1971" y="401" width="4" height="24"/><rect x="1975" y="401" width="4" height="20"/><rect x="1979" y="409" width="4" height="24"/><rect x="1983" y="417" width="4" height="24"/><rect x="1987" y="429" width="4" height="20"/><rect x="1991" y="433" width="4" height="16"/><rect x="1995" y="437" width="4" height="12"/><rect x="1999" y="433" width="4" height="16"/><rect x="2003" y="433" width="4" height="12"/><rect x="2007" y="433" width="4" height="12"/><rect x="2011" y="433" width="4" height="12"/><rect x="2015" y="429" width="4" height="16"/><rect x="2019" y="429" width="4" height="16"/><rect x="2023" y="429" width="4" height="16"/><rect x="2027" y="429" width="4" height="16"/><rect x="2031" y="429" width="4" height="16"/><rect x="2035" y="429" width="4" height="16"/><rect x="2039" y="429" width="4" height="16"/><rect x="2043" y="429" width="4" height="12"/><rect x="2047" y="425" width="4" height="16"/><rect x="2051" y="425" width="4" height="16"/><rect x="2055" y="425" width="4" height="12"/><rect x="2059" y="425" width="4" height="12"/><rect x="2063" y="421" width="4" height="16"/><rect x="2067" y="421" width="4" height="12"/><rect x="2071" y="421" width="4" height="12"/><rect x="2075" y="417" width="4" height="16"/><rect x="2079" y="417" width="4" height="16"/><rect x="2083" y="417" width="4" height="16"/><rect x="2087" y="417" width="4" height="16"/><rect x="2091" y="417" width="4" height="16"/><rect x="2095" y="417" width="4" height="24"/><rect x="2099" y="429" width="4" height="16"/></g>
<text x="211.5" y="99.5" font-size="96" fill="#000" text-anchor="end" >2</text>
<text x="213.5" y="471.5" font-size="96" fill="#000" text-anchor="end" >1</text>
<text x="211.5" y="843.5" font-size="96" fill="#000" text-anchor="end" >0</text>
<text x="241" y="1600" font-size="96" fill="#000" text-anchor="middle" >20</text>
<text x="705.5" y="1600" font-size="96" fill="#000" text-anchor="middle" >30</text>
<text x="1170" y="1600" font-size="96" fill="#000" text-anchor="middle" >40</text>
<text x="1635" y="1600" font-size="96" fill="#000" text-anchor="middle" >50</text>
<text x="2099.5" y="1600" font-size="96" fill="#000" text-anchor="middle" >60</text>
<text x="1004.7" y="1694" font-size="96" fill="#000" text-anchor="start" >2</text>
<text transform="translate(1062.1,1693) scale(1.08,1)" x="0" y="0" font-size="80" fill="#000">θ</text>
<text x="1133.9 1172.0 1223.5 1280.5 1329.0 1366.8 1419.65 1476.24 1527.94" y="1694" font-size="96" fill="#000">(degrees)</text>
<text transform="translate(103,1248.5) rotate(-90) scale(0.978,1)" x="0" y="0" font-size="100" fill="#000">Normalised intensity</text>
<text transform="translate(1663.4,296.5) scale(1.0108,1)" x="0" y="0" font-size="96" fill="#ff0000">180 minutes</text>
<text transform="translate(1659.9,705) scale(1.0216,1)" x="0" y="0" font-size="96" fill="#0000ff">30 minutes</text>
<text transform="translate(1783.4,1055.8) scale(1.0214,1)" x="0" y="0" font-size="96" fill="#808080">vaterite</text>
<text transform="translate(1808.7,1405) scale(1.025,1)" x="0" y="0" font-size="96" fill="#808080">calcite</text>
</svg>
</body></html>
